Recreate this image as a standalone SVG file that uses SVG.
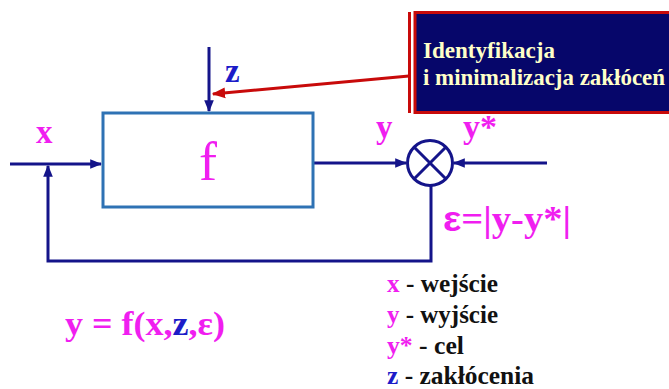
<svg xmlns="http://www.w3.org/2000/svg" width="669" height="389" viewBox="0 0 669 389">
<style>
.ln{fill:none;stroke:#14148a;stroke-width:3}
</style>
<defs>
<marker id="ah" viewBox="0 0 10 10" refX="9" refY="5" markerWidth="4" markerHeight="4" orient="auto" markerUnits="strokeWidth"><path d="M0,1 L10,5 L0,9 z" fill="#14148a"/></marker>
<marker id="ahr" viewBox="0 0 10 10" refX="9" refY="5" markerWidth="4.5" markerHeight="4.5" orient="auto" markerUnits="strokeWidth"><path d="M0,1 L10,5 L0,9 z" fill="#c80a0a"/></marker>
</defs>
<rect width="669" height="389" fill="#fff"/>
<g id="connectors">
<line class="ln" x1="10" y1="164" x2="101" y2="164" marker-end="url(#ah)"/>
<line class="ln" x1="209" y1="47" x2="209" y2="111" marker-end="url(#ah)"/>
<line class="ln" x1="314" y1="163" x2="406" y2="163" marker-end="url(#ah)"/>
<line class="ln" x1="547" y1="163" x2="454" y2="163" marker-end="url(#ah)"/>
<polyline class="ln" points="431,186 431,261 48,261 48,166" marker-end="url(#ah)"/>
<line x1="409" y1="76" x2="213" y2="94" stroke="#c80a0a" stroke-width="3" marker-end="url(#ahr)"/>
</g>
<g id="block-f">
<rect x="103" y="113" width="210" height="94" fill="#fff" stroke="#2e72b4" stroke-width="3"/>
<text x="208" y="180" text-anchor="middle" font-family="Liberation Serif, serif" font-size="54" fill="#f01ef0">f</text>
</g>
<g id="comparator">
<circle cx="430" cy="163" r="22.5" fill="#fff" stroke="#14148a" stroke-width="3"/>
<line x1="414" y1="147" x2="446" y2="179" stroke="#14148a" stroke-width="3"/>
<line x1="446" y1="147" x2="414" y2="179" stroke="#14148a" stroke-width="3"/>
</g>
<g id="id-box">
<line x1="409.5" y1="12" x2="409.5" y2="113" stroke="#c80a0a" stroke-width="3"/>
<rect x="415" y="12.5" width="260" height="100" fill="#06066a" stroke="#c80a0a" stroke-width="3"/>
<text font-family="Liberation Serif, serif" font-weight="bold" font-size="23" fill="#ffffc8"><tspan x="423" y="58" textLength="132" lengthAdjust="spacingAndGlyphs">Identyfikacja</tspan><tspan x="423" y="85" textLength="242" lengthAdjust="spacingAndGlyphs">i minimalizacja zakłóceń</tspan></text>
</g>
<g id="labels" font-family="Liberation Serif, serif" font-weight="bold">
<text x="36" y="143" font-size="33" fill="#f01ef0">x</text>
<text x="225" y="82" font-size="33" fill="#1c1cc8">z</text>
<text x="376" y="138" font-size="33" fill="#f01ef0">y</text>
<text x="463" y="138" font-size="33" fill="#f01ef0" textLength="34" lengthAdjust="spacingAndGlyphs">y*</text>
<text x="443" y="231" font-size="35" fill="#f01ef0" textLength="128" lengthAdjust="spacingAndGlyphs"><tspan font-family="Liberation Sans, sans-serif">ε</tspan>=|y-y*|</text>
<text x="65" y="335" font-size="33" fill="#f01ef0" textLength="160" lengthAdjust="spacingAndGlyphs">y = f(x,<tspan fill="#1c1cc8">z</tspan>,ε)</text>
</g>
<g id="legend" font-family="Liberation Serif, serif" font-weight="bold" font-size="25.5" fill="#111">
<text x="387" y="292" textLength="111" lengthAdjust="spacingAndGlyphs"><tspan fill="#f01ef0">x</tspan> - wejście</text>
<text x="387" y="323" textLength="111" lengthAdjust="spacingAndGlyphs"><tspan fill="#f01ef0">y</tspan> - wyjście</text>
<text x="387" y="354" textLength="77" lengthAdjust="spacingAndGlyphs"><tspan fill="#f01ef0">y*</tspan> - cel</text>
<text x="387" y="384" textLength="147" lengthAdjust="spacingAndGlyphs"><tspan fill="#1c1cc8">z</tspan> - zakłócenia</text>
</g>
</svg>
